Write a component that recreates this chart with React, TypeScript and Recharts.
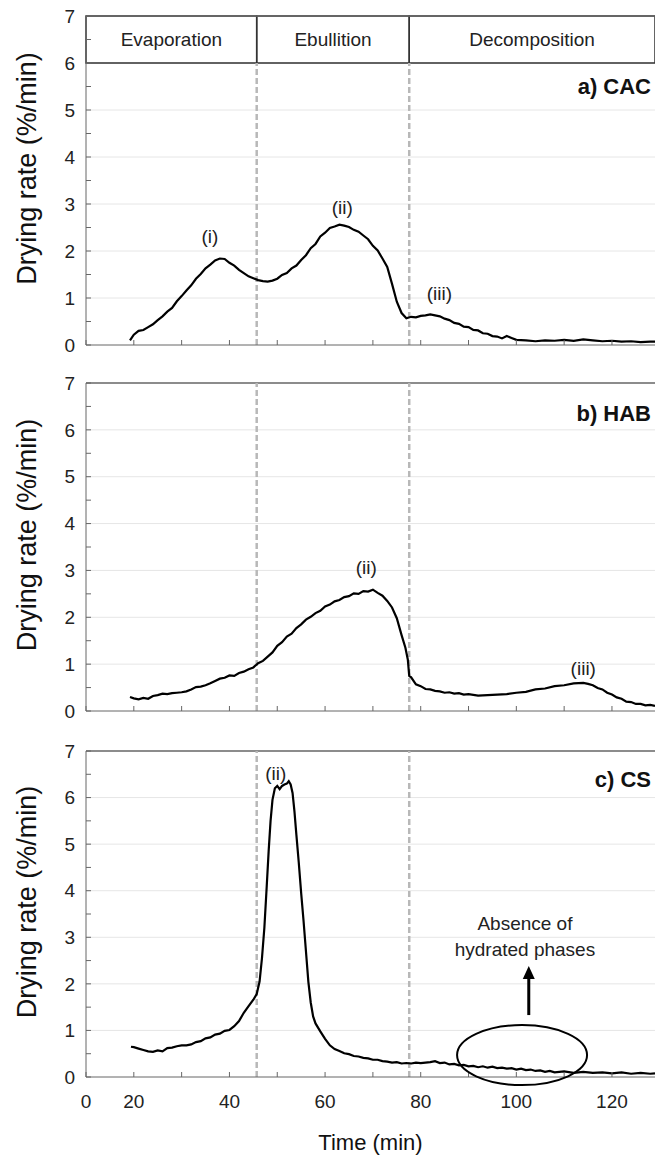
import {
  LineChart,
  Line,
  XAxis,
  YAxis,
  CartesianGrid,
  ReferenceLine,
  ReferenceArea,
  ReferenceDot,
} from "recharts";

const FONT = "'Liberation Sans', Arial, Helvetica, sans-serif";

// a) CAC
const cacTime = [
  19.2, 20, 21, 22, 23, 24, 25, 26, 27, 28, 29, 30, 31, 32, 33, 34, 35, 36, 37, 38, 39, 40,
  41, 42, 43, 44, 45, 46, 47, 48, 49, 50, 51, 52, 53, 54, 55, 56, 57, 58, 59, 60, 61, 62,
  63, 64, 65, 66, 67, 68, 69, 70, 71, 72, 73, 74, 75, 76, 77, 78, 79, 80, 81, 82, 83, 84,
  85, 86, 87, 88, 89, 90, 91, 92, 93, 94, 95, 96, 97, 98, 99, 100, 102, 104, 106, 108, 110,
  112, 114, 116, 118, 120, 122, 124, 126, 128, 129,
];
const cacRate = [
  0.1, 0.22, 0.3, 0.32, 0.38, 0.44, 0.53, 0.61, 0.71, 0.79, 0.93, 1.04, 1.16, 1.27, 1.41, 1.51,
  1.63, 1.71, 1.8, 1.84, 1.83, 1.75, 1.69, 1.6, 1.53, 1.46, 1.42, 1.38, 1.36, 1.35, 1.37,
  1.41, 1.49, 1.53, 1.63, 1.69, 1.81, 1.91, 2.06, 2.15, 2.31, 2.39, 2.49, 2.52, 2.56, 2.54, 2.51,
  2.45, 2.41, 2.33, 2.25, 2.11, 2.01, 1.84, 1.66, 1.3, 0.92, 0.68, 0.57, 0.6, 0.59, 0.62, 0.63,
  0.65, 0.63, 0.61, 0.56, 0.53, 0.47, 0.45, 0.39, 0.38, 0.32, 0.31, 0.25, 0.24, 0.19, 0.18, 0.14,
  0.19, 0.15, 0.11, 0.1, 0.08, 0.1, 0.09, 0.11, 0.09, 0.12, 0.1, 0.08, 0.09, 0.07, 0.08, 0.06,
  0.07, 0.07,
];

// b) HAB
const habTime = [
  19.2, 20, 21, 22, 23, 24, 25, 26, 27, 28, 29, 30, 31, 32, 33, 34, 35, 36, 37, 38, 39, 40,
  41, 42, 43, 44, 45, 46, 47, 48, 49, 50, 51, 52, 53, 54, 55, 56, 57, 58, 59, 60, 61, 62,
  63, 64, 65, 66, 67, 68, 69, 70, 71, 72, 73, 74, 75, 76, 76.8, 77.3, 77.6, 78, 79, 80, 81,
  82, 83, 84, 85, 86, 87, 88, 89, 90, 92, 94, 96, 98, 100, 102, 104, 106, 108, 110, 112,
  114, 115, 116, 117, 118, 119, 120, 121, 122, 123, 124, 125, 126, 127, 128, 129,
];
const habRate = [
  0.3, 0.27, 0.25, 0.28, 0.26, 0.32, 0.34, 0.37, 0.36, 0.38, 0.39, 0.4, 0.42, 0.46, 0.51,
  0.52, 0.55, 0.59, 0.64, 0.69, 0.71, 0.76, 0.75, 0.81, 0.84, 0.89, 0.93, 1.02, 1.07, 1.16,
  1.25, 1.39, 1.47, 1.59, 1.65, 1.77, 1.85, 1.95, 2.01, 2.09, 2.14, 2.23, 2.27, 2.34, 2.37,
  2.43, 2.45, 2.51, 2.5, 2.56, 2.55, 2.59, 2.52, 2.46, 2.35, 2.21, 1.98, 1.62, 1.35, 1.1,
  0.75, 0.72, 0.57, 0.53, 0.47, 0.46, 0.43, 0.42, 0.39, 0.4, 0.37, 0.38, 0.35, 0.36, 0.33,
  0.34, 0.35, 0.36, 0.39, 0.41, 0.46, 0.48, 0.53, 0.55, 0.59, 0.6, 0.58, 0.55, 0.49, 0.46,
  0.39, 0.35, 0.29, 0.26, 0.2, 0.19, 0.15, 0.15, 0.12, 0.13, 0.11,
];

// c) CS
const csTime = [
  19.4, 20, 21, 22, 23, 24, 25, 26, 27, 28, 29, 30, 31, 32, 33, 34, 35, 36, 37, 38, 39, 40,
  41, 42, 43, 44, 45, 45.7, 46.3, 46.8, 47.3, 47.8, 48.2, 48.6, 49, 49.5, 50, 50.5, 51, 51.5,
  52, 52.4, 52.8, 53.2, 53.6, 54, 54.5, 55, 55.5, 56, 56.5, 57, 57.5, 58, 59, 60, 61, 62, 63,
  64, 65, 66, 67, 68, 69, 70, 71, 72, 73, 74, 75, 76, 77, 78, 79, 80, 81, 82, 83, 84, 85, 86,
  87, 88, 89, 90, 91, 92, 93, 94, 95, 96, 97, 98, 99, 100, 101, 102, 103, 104, 105, 106,
  107, 108, 110, 112, 114, 116, 118, 120, 122, 124, 126, 128, 129,
];
const csRate = [
  0.65, 0.64, 0.61, 0.58, 0.55, 0.54, 0.57, 0.55, 0.62, 0.63, 0.66, 0.68, 0.68, 0.7, 0.75,
  0.77, 0.83, 0.85, 0.91, 0.93, 0.99, 1.01, 1.09, 1.2, 1.38, 1.52, 1.66, 1.78, 2.05, 2.55,
  3.2, 4.1, 4.85, 5.5, 5.95, 6.2, 6.25, 6.18, 6.25, 6.28, 6.3, 6.35, 6.28, 6.1, 5.7, 5.2, 4.6,
  3.95, 3.35, 2.7, 2.05, 1.6, 1.3, 1.15, 0.98, 0.82, 0.68, 0.6, 0.56, 0.51, 0.49, 0.45, 0.44,
  0.41, 0.4, 0.37, 0.37, 0.34, 0.33, 0.31, 0.32, 0.29, 0.3, 0.29, 0.31, 0.3, 0.31, 0.32, 0.34,
  0.3, 0.31, 0.27, 0.28, 0.25, 0.26, 0.23, 0.24, 0.21, 0.23, 0.2, 0.22, 0.19, 0.2, 0.18,
  0.19, 0.16, 0.18, 0.15, 0.16, 0.13, 0.14, 0.11, 0.13, 0.1, 0.12, 0.09, 0.11, 0.09, 0.1,
  0.08, 0.1, 0.07, 0.09, 0.07, 0.08,
];

const phaseNames = ["Evaporation", "Ebullition", "Decomposition"];
const phaseBounds = [10, 45.7, 77.6, 129];
const xTicks = [10, 20, 30, 40, 50, 60, 70, 80, 90, 100, 110, 120];
const yTicks = [0, 0.5, 1, 1.5, 2, 2.5, 3, 3.5, 4, 4.5, 5, 5.5, 6, 6.5, 7];
const gridValues = [1, 2, 3, 4, 5, 6];

const toRows = (t: number[], v: number[]) => t.map((x, i) => ({ t: x, rate: v[i] }));

const noteStyle = { fontSize: 19, fill: "#222", fontFamily: FONT };
const dashStyle = { stroke: "#b8b8b8", strokeWidth: 2.5, strokeDasharray: "6 3" };

function yLabel(p: any) {
  const vb = p.viewBox;
  const cx = 27;
  const cy = vb.y + vb.height / 2 - 12;
  return (
    <text
      x={cx}
      y={cy}
      transform={`rotate(-90 ${cx} ${cy})`}
      textAnchor="middle"
      dominantBaseline="central"
      fontSize={27}
      fontFamily={FONT}
      fill="#111"
    >
      Drying rate (%/min)
    </text>
  );
}

interface Note {
  x: number;
  y: number;
  text: string;
}

function Panel(props: {
  rows: { t: number; rate: number }[];
  top: number;
  height: number;
  marginTop: number;
  xHeight: number;
  title: string;
  titleY: number;
  notes: Note[];
  header?: boolean;
  bottom?: boolean;
  extra?: React.ReactNode;
}) {
  const { rows, top, height, marginTop, xHeight, title, titleY, notes, header, bottom } = props;
  const yTop = header ? 6 : 7;
  return (
    <div style={{ position: "absolute", top, left: 0 }}>
      <LineChart
        width={655}
        height={height}
        data={rows}
        margin={{ top: marginTop, right: 0, bottom: 0, left: 0 }}
      >
        <CartesianGrid vertical={false} stroke="#e6e6e6" horizontalValues={gridValues} />
        <XAxis
          type="number"
          dataKey="t"
          domain={[10, 129]}
          ticks={xTicks}
          interval={0}
          allowDataOverflow
          height={xHeight}
          tickSize={-5}
          tickMargin={23}
          stroke="#666"
          tick={{ fontSize: 19, fill: "#222", fontFamily: FONT }}
          tickFormatter={(v: number) =>
            !bottom ? "" : v === 10 ? "0" : v % 20 === 0 ? String(v) : ""
          }
          label={
            bottom
              ? {
                  value: "Time (min)",
                  position: "insideBottom",
                  offset: 8,
                  fontSize: 22,
                  fill: "#111",
                  fontFamily: FONT,
                }
              : undefined
          }
        />
        <YAxis
          type="number"
          domain={[0, 7]}
          ticks={yTicks}
          interval={0}
          width={86}
          tickSize={-5}
          tickMargin={16}
          stroke="#666"
          tick={{ fontSize: 19, fill: "#222", fontFamily: FONT }}
          tickFormatter={(v: number) => (Number.isInteger(v) ? String(v) : "")}
          label={yLabel}
        />
        <ReferenceLine y={7} stroke="#666" strokeWidth={1.5} />
        {header &&
          phaseNames.map((name, i) => (
            <ReferenceArea
              key={name}
              x1={phaseBounds[i]}
              x2={phaseBounds[i + 1]}
              y1={6}
              y2={7}
              fill="none"
              stroke="#333"
              strokeWidth={1.5}
              label={{ value: name, position: "center", ...noteStyle }}
            />
          ))}
        {[phaseBounds[1], phaseBounds[2]].map((x) => (
          <ReferenceLine
            key={x}
            segment={[
              { x, y: 0 },
              { x, y: yTop },
            ]}
            {...dashStyle}
          />
        ))}
        <Line
          type="linear"
          dataKey="rate"
          stroke="#000"
          strokeWidth={2.2}
          dot={false}
          isAnimationActive={false}
        />
        {notes.map((n) => (
          <ReferenceDot
            key={n.text + n.x}
            x={n.x}
            y={n.y}
            r={0}
            fill="none"
            stroke="none"
            label={{ value: n.text, position: "center", ...noteStyle }}
          />
        ))}
        <ReferenceDot
          x={129}
          y={titleY}
          r={0}
          fill="none"
          stroke="none"
          label={{
            value: title,
            position: "left",
            offset: 4,
            fontSize: 22,
            fontWeight: "bold",
            fill: "#111",
            fontFamily: FONT,
          }}
        />
        {props.extra}
      </LineChart>
    </div>
  );
}

const cacNotes: Note[] = [
  { x: 35.9, y: 2.32, text: "(i)" },
  { x: 63.6, y: 2.94, text: "(ii)" },
  { x: 83.9, y: 1.1, text: "(iii)" },
];
const habNotes: Note[] = [
  { x: 68.6, y: 3.07, text: "(ii)" },
  { x: 114, y: 0.92, text: "(iii)" },
];
const csNotes: Note[] = [
  { x: 49.7, y: 6.52, text: "(ii)" },
  { x: 101.8, y: 3.3, text: "Absence of" },
  { x: 101.8, y: 2.75, text: "hydrated phases" },
];

export default function App() {
  const csExtra = [
    <ReferenceDot
      key="ellipse"
      x={101.2}
      y={0.47}
      r={1}
      shape={(p: any) => (
        <ellipse cx={p.cx} cy={p.cy} rx={65} ry={30} fill="none" stroke="#000" strokeWidth={2} />
      )}
    />,
    <ReferenceDot
      key="arrow"
      x={102.6}
      y={1.33}
      r={1}
      shape={(p: any) => (
        <g>
          <line x1={p.cx} y1={p.cy} x2={p.cx} y2={p.cy - 38} stroke="#000" strokeWidth={3} />
          <path
            d={`M${p.cx - 6},${p.cy - 36} L${p.cx + 6},${p.cy - 36} L${p.cx},${p.cy - 49} Z`}
            fill="#000"
          />
        </g>
      )}
    />,
  ];

  return (
    <div style={{ position: "absolute", top: 0, left: 0, width: 655, height: 1158, background: "#fff" }}>
      <Panel
        rows={toRows(cacTime, cacRate)}
        top={0}
        height={360}
        marginTop={16}
        xHeight={15}
        title="a) CAC"
        titleY={5.5}
        notes={cacNotes}
        header
      />
      <Panel
        rows={toRows(habTime, habRate)}
        top={360}
        height={365}
        marginTop={23}
        xHeight={14}
        title="b) HAB"
        titleY={6.35}
        notes={habNotes}
      />
      <Panel
        rows={toRows(csTime, csRate)}
        top={725}
        height={433}
        marginTop={26}
        xHeight={81}
        title="c) CS"
        titleY={6.4}
        notes={csNotes}
        bottom
        extra={csExtra}
      />
    </div>
  );
}
